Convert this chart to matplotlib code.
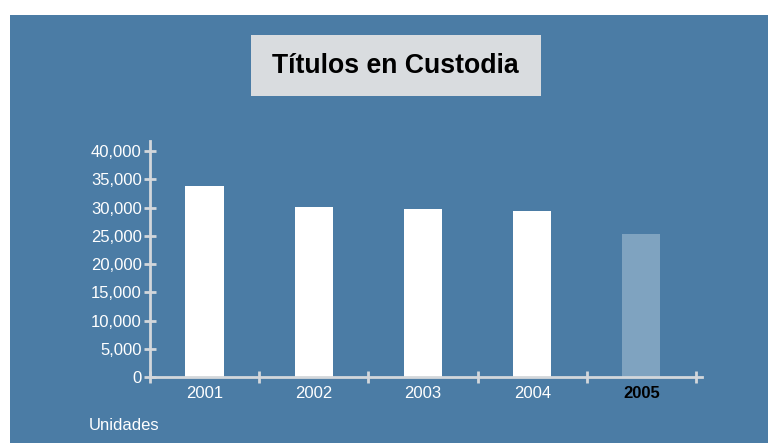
import matplotlib
matplotlib.use("Agg")
import matplotlib.pyplot as plt
from matplotlib.patches import Rectangle
from matplotlib.ticker import FuncFormatter


YEARS = ["2001", "2002", "2003", "2004", "2005"]
TITULOS = [33800, 30100, 29700, 29400, 25300]
Y_TICKS = [0, 5000, 10000, 15000, 20000, 25000, 30000, 35000, 40000]

BG_BLUE = "#4b7ca5"
BOX_GRAY = "#d9dcdf"
AXIS_GRAY = "#d3d7db"
BAR_WHITE = "#ffffff"
BAR_LIGHT = "#7fa3c0"

plt.rcParams["font.family"] = ["Liberation Sans", "DejaVu Sans"]

W, H = 768, 443
fig = plt.figure(figsize=(W / 100, H / 100), dpi=100)
fig.patch.set_facecolor("white")

# blue panel and title box, in figure pixels
fig.patches.append(Rectangle((10 / W, 0), 1 - 10 / W, 1 - 15 / H,
                             transform=fig.transFigure, facecolor=BG_BLUE,
                             edgecolor="none", zorder=-2))
fig.patches.append(Rectangle((251 / W, 1 - 96 / H), 290 / W, 61 / H,
                             transform=fig.transFigure, facecolor=BOX_GRAY,
                             edgecolor="none", zorder=-1))
fig.text(395 / W, 1 - 66 / H, "Títulos en Custodia", ha="center", va="center",
         fontsize=19.2, fontweight="bold", color="black")

ax = fig.add_axes([150 / W, 1 - 377 / H, 552 / W, 236 / H])
ax.set_facecolor("none")
ax.set_zorder(2)

x = list(range(len(YEARS)))
colors = [BAR_WHITE] * (len(YEARS) - 1) + [BAR_LIGHT]
ax.bar(x, TITULOS, width=0.35, color=colors, zorder=2)

ax.set_xlim(-0.5, len(YEARS) - 0.5 + 6 / 109)
ax.set_ylim(0, 41770)

for side in ["top", "right"]:
    ax.spines[side].set_visible(False)
for side in ["left", "bottom"]:
    ax.spines[side].set_color(AXIS_GRAY)
    ax.spines[side].set_linewidth(2)
    ax.spines[side].set_zorder(3)

ax.set_yticks(Y_TICKS)
ax.yaxis.set_major_formatter(FuncFormatter(lambda v, p: f"{int(v):,}"))
ax.tick_params(axis="y", direction="inout", length=8, width=2, color=AXIS_GRAY,
               labelcolor="white", labelsize=12, pad=2)

# category ticks sit on the boundaries, year labels between them
ax.set_xticks([i - 0.5 for i in range(len(YEARS) + 1)])
ax.set_xticklabels([])
ax.tick_params(axis="x", direction="inout", length=8, width=2, color=AXIS_GRAY)
for i, year in enumerate(YEARS):
    last = i == len(YEARS) - 1
    ax.text(i, -0.04, year, transform=ax.get_xaxis_transform(), ha="center",
            va="top", fontsize=12, color="black" if last else "white",
            fontweight="bold" if last else "normal")

fig.text(89 / W, 1 - 426 / H, "Unidades", ha="left", va="center",
         fontsize=12, color="white")

fig.savefig("out.png", dpi=100, facecolor=fig.get_facecolor())
